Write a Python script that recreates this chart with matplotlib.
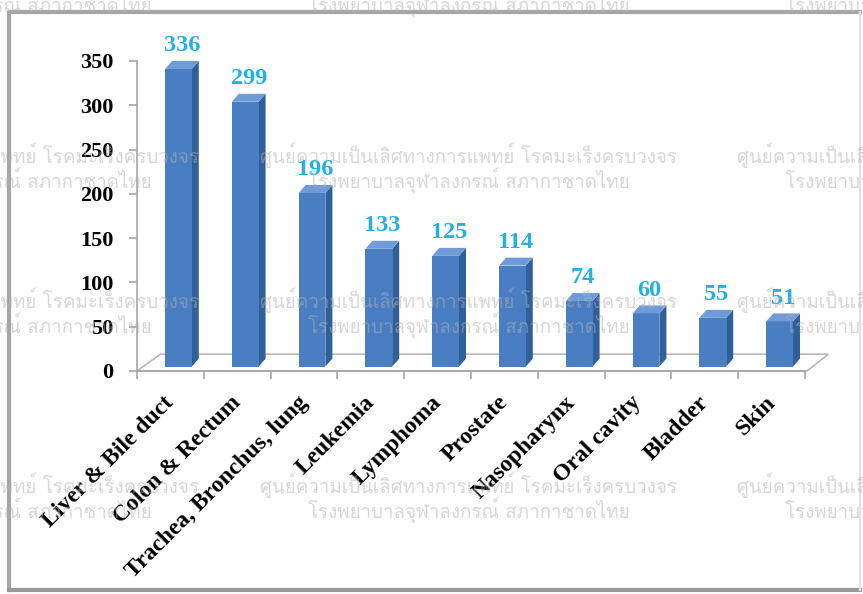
import numpy as np
import matplotlib
matplotlib.use("Agg")
import matplotlib.pyplot as plt
from matplotlib.patches import Polygon, Rectangle
from matplotlib.lines import Line2D
from matplotlib import font_manager
from matplotlib.ft2font import FT2Font

# data
cancers = ["Liver & Bile duct", "Colon & Rectum", "Trachea, Bronchus, lung",
           "Leukemia", "Lymphoma", "Prostate", "Nasopharynx", "Oral cavity",
           "Bladder", "Skin"]
cases = [336, 299, 196, 133, 125, 114, 74, 60, 55, 51]
y_ticks = [0, 50, 100, 150, 200, 250, 300, 350]

watermark_1 = "ศูนย์ความเป็นเลิศทางการแพทย์ โรคมะเร็งครบวงจร"
watermark_2 = "โรงพยาบาลจุฬาลงกรณ์ สภากาชาดไทย"


def thai_font():
    # look for an installed font that has Thai glyphs
    for f in font_manager.fontManager.ttflist:
        try:
            if 0x0E28 in FT2Font(f.fname).get_charmap():
                return f.name
        except Exception:
            pass
    return None


serif = "Liberation Serif"
W, H = 863, 594
fig = plt.figure(figsize=(W / 100, H / 100), dpi=100)
fig.patch.set_facecolor("white")

ax = fig.add_axes([137 / W, (H - 371) / H, 668 / W, 310 / H])
ax.patch.set_visible(False)
ax.set_xlim(-0.5, len(cases) - 0.5)
ax.set_ylim(0, 350)

grey = "#a6a6a6"
# floor of the 3d plot
floor = Polygon([(-0.5, 0), (len(cases) - 0.47, 0), (len(cases) - 0.15, 19), (-0.15, 19)],
                closed=True, facecolor="white", edgecolor="#b8b8b8", lw=1.2,
                clip_on=False, zorder=1)
ax.add_patch(floor)

# 3d bars
fl, bw = -0.08, 0.40      # front face offset and width
dx, dy = 0.105, 9         # depth of the bar
y0 = 5
for i, v in enumerate(cases):
    x0, x1 = i + fl, i + fl + bw
    top = v + y0
    side = Polygon([(x1, y0), (x1 + dx, y0 + dy), (x1 + dx, top + dy), (x1, top)],
                   closed=True, facecolor="#30609c", edgecolor="none", clip_on=False, zorder=3)
    front = Rectangle((x0, y0), bw, top - y0, facecolor="#4a7ec2", edgecolor="none",
                      clip_on=False, zorder=4)
    cap = Polygon([(x0, top), (x1, top), (x1 + dx, top + dy), (x0 + dx, top + dy)],
                  closed=True, facecolor="#6f9cd8", edgecolor="none", clip_on=False, zorder=4)
    ax.add_patch(side)
    ax.add_patch(front)
    ax.add_patch(cap)
    ax.annotate(str(v), xy=(i + fl + bw / 2 + dx / 2, top + dy), xytext=(0, 7),
                textcoords="offset points", ha="center", va="baseline",
                fontsize=17.5, fontweight="bold", family=serif, color="#22b0e6",
                annotation_clip=False, zorder=6)

# category labels, rotated
for i, name in enumerate(cancers):
    ax.annotate(name, xy=(i, 0), xytext=(-5, -15), textcoords="offset points",
                rotation=45, rotation_mode="anchor", ha="right", va="top",
                fontsize=17, fontweight="bold", family=serif, color="black",
                annotation_clip=False)

for s in ["top", "right"]:
    ax.spines[s].set_visible(False)
ax.spines["left"].set_color(grey)
ax.spines["bottom"].set_color(grey)
ax.spines["left"].set_linewidth(1.2)
ax.spines["bottom"].set_linewidth(1.2)

ax.set_xticks(np.arange(-0.5, len(cases), 1))
ax.set_xticklabels([])
ax.set_yticks(y_ticks)
ax.set_yticklabels([str(t) for t in y_ticks], fontsize=16, fontweight="bold", family=serif)
ax.tick_params(axis="both", color=grey, length=6, width=1.2, direction="out")
ax.tick_params(axis="y", pad=11)

# frame around the chart area
fx0, fx1 = 9 / W, 860 / W
fy0, fy1 = 1 - 590 / H, 1 - 12 / H
fig.add_artist(Line2D([fx0, fx0, fx1], [fy0, fy1, fy1], transform=fig.transFigure,
                      color=grey, lw=3, zorder=10))
fig.add_artist(Line2D([fx0, fx1], [fy0, fy0], transform=fig.transFigure,
                      color="#999999", lw=3, zorder=10))
fig.add_artist(Line2D([fx1, fx1], [fy0, fy1], transform=fig.transFigure,
                      color="#e2e2e2", lw=1.5, zorder=10))

# watermark
tf = thai_font()
if tf:
    rows = [-21, 155, 300, 485]
    cols = [-218, 260, 737]
    for r in rows:
        for c in cols:
            fig.text(c / W, 1 - r / H, watermark_1, family=tf, fontsize=13.5,
                     color="#b0b0b0", alpha=0.5, ha="left", va="center", zorder=12)
            fig.text((c + 48) / W, 1 - (r + 26) / H, watermark_2, family=tf, fontsize=13.5,
                     color="#b0b0b0", alpha=0.5, ha="left", va="center", zorder=12)

plt.savefig("out.png", dpi=100)
